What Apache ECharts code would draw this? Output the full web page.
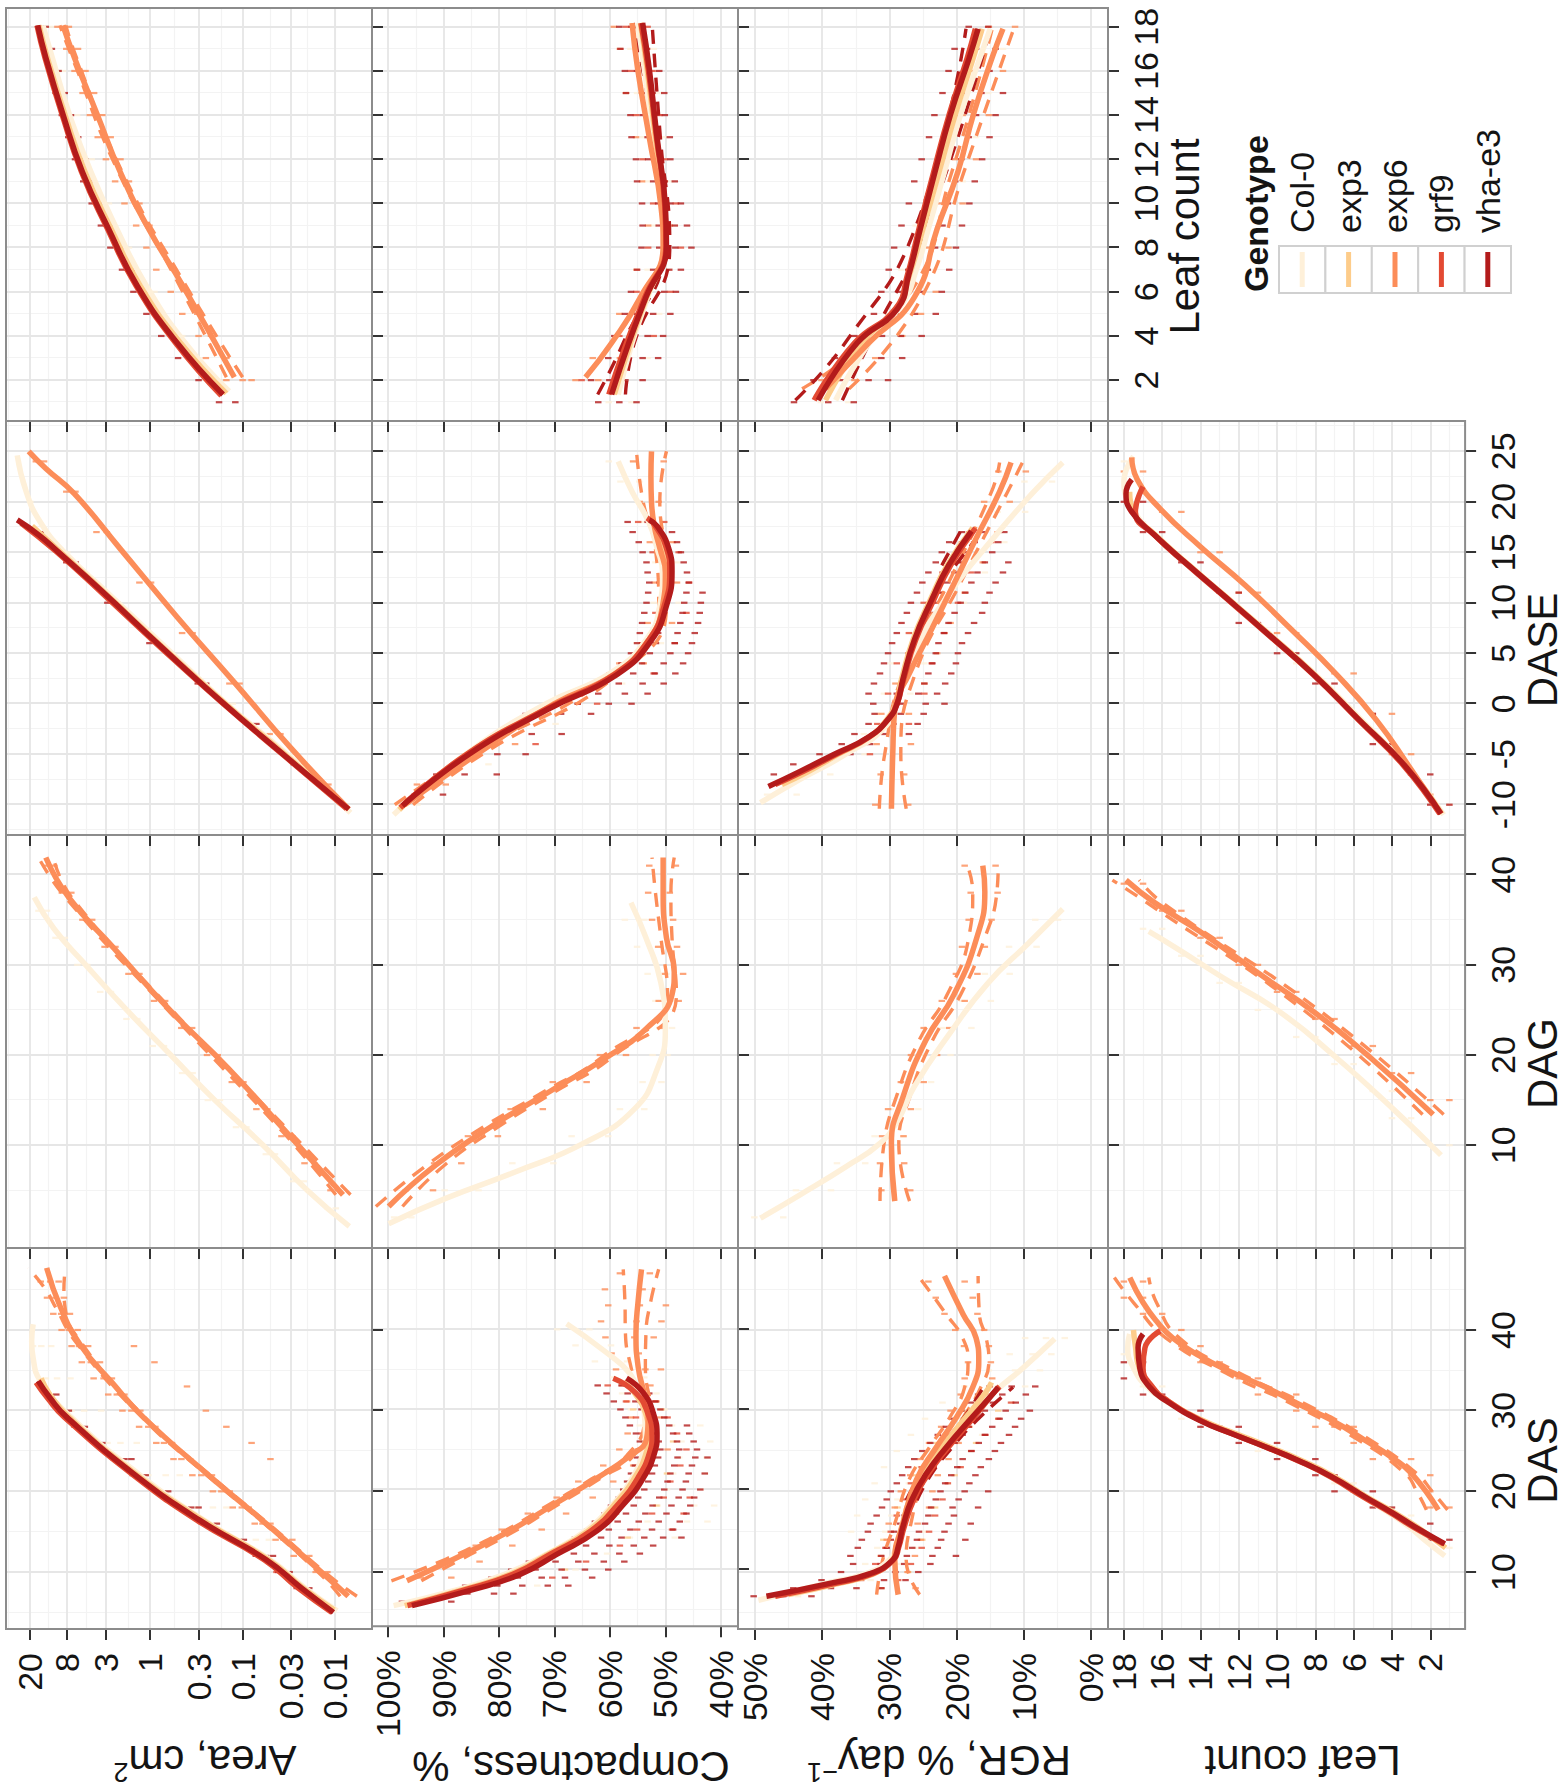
<!DOCTYPE html>
<html>
<head>
<meta charset="utf-8">
<title>Rosette growth by genotype</title>
<script src="https://cdn.jsdelivr.net/npm/echarts@6/dist/echarts.min.js"></script>
<style>
  html, body { margin: 0; padding: 0; background: #ffffff; }
  #page { position: relative; width: 1564px; height: 1792px; overflow: hidden; background: #ffffff; }
  /* the figure is laid out landscape and turned a quarter turn counter-clockwise */
  #chart { position: absolute; left: 0; top: 0; width: 1792px; height: 1564px;
           transform-origin: 0 0; transform: translateY(1792px) rotate(-90deg); }
</style>
</head>
<body>
<div id="page"><div id="chart"></div></div>
<script>
// ---------------- genotypes ----------------
const genotypes = ['Col-0', 'exp3', 'exp6', 'grf9', 'vha-e3'];
const genoColors = ['#fef0d9', '#fdcc8a', '#fc8d59', '#e34a33', '#b31b1b'];

// ---------------- axes: x variables (columns) ----------------
const xNames = ['DAS', 'DAG', 'DASE', 'Leaf count'];
const xRanges = [[2.94, 50.16], [-1.4, 44.4], [-13.0, 28.0], [0.15, 18.85]];
const xTicks = [[10, 20, 30, 40], [10, 20, 30, 40], [-10, -5, 0, 5, 10, 15, 20, 25], [2, 4, 6, 8, 10, 12, 14, 16, 18]];

// ---------------- axes: y variables (rows) ----------------
const yNames = ['Area, cm{sup|2}', 'Compactness, %', 'RGR, % day{sup|\u22121}', 'Leaf count'];
const yRanges = [[0.00398, 36.4], [36.9, 102.9], [-2.53, 52.53], [0.18, 18.83]];
const yTicks = [[0.01, 0.03, 0.1, 0.3, 1, 3, 8, 20], [40, 50, 60, 70, 80, 90, 100], [0, 10, 20, 30, 40, 50], [2, 4, 6, 8, 10, 12, 14, 16, 18]];

// ================= fitted curves [x, y] and confidence bands [x, lower, upper] =================
// DAS x Area (cm2)
const dasAreaCol0 = [[5.2,0.0095],[8,0.021],[11.5,0.05],[16.4,0.26],[22.2,1.35],[29.2,7.2],[33.7,15.5],[36.5,18.5],[38.6,19.2],[40.7,18.5]];
const dasAreaExp3 = [[5.3,0.0102],[8,0.022],[11.5,0.052],[16.4,0.27],[22.2,1.45],[29.2,7.6],[32,12.2],[34,15.2]];
const dasAreaExp6 = [[7.0,0.0072],[9.4,0.0123],[15.6,0.0506],[22.2,0.245],[29.2,1.19],[33.5,2.6],[38.2,5.75],[43,9.5],[47.7,13.2]];
const dasAreaGrf9 = [[5.0,0.0108],[8,0.025],[11.5,0.058],[16.4,0.31],[22.2,1.6],[29.2,8.5],[31.5,12.8],[33.5,17.2]];
const dasAreaVha = [[5.0,0.0104],[8,0.023],[11.5,0.055],[16.4,0.29],[22.2,1.52],[29.2,8.0],[31.5,12],[33.7,16.3]];
const dasAreaExp6Ci = [[7,0.0058,0.0088],[9.4,0.0112,0.0135],[15.6,0.048,0.053],[22.2,0.236,0.255],[29.2,1.15,1.23],[38.2,5.4,6.1],[43,8.4,10.8],[45,8.6,13.5],[47.7,8.3,21]];

// DAS x Compactness (%)
const dasCompCol0 = [[5.5,99],[7.4,88],[9.4,79],[11.9,71.5],[14.8,64.5],[18.1,59.5],[21.4,56],[24.7,54],[26.7,53.6],[29.6,53.8],[32.1,55],[34.5,56.4],[37.4,61.2],[40.7,67.8]];
const dasCompExp3 = [[5.5,97],[7.4,87],[9.4,78],[11.9,71.2],[14.8,64],[18.1,59.2],[21.4,55.6],[24.7,53.4],[26.7,53],[29.6,53.6],[32.1,55.6],[33.5,57.5]];
const dasCompExp6 = [[8.6,96.6],[11.3,88.2],[14.4,79.2],[18.1,70.2],[21.4,62.4],[24.2,56.4],[26.3,53.4],[28.8,53.1],[31.6,53.7],[35.3,54.9],[39.5,55.3],[43.6,54.9],[47.5,54.3]];
const dasCompGrf9 = [[5.5,96.5],[7.4,86.5],[9.4,77.5],[11.9,70.8],[14.8,63.5],[18.1,58.6],[21.4,55.0],[24.7,52.8],[26.7,52.4],[29.6,53.2],[32.1,55.4],[33.9,59.4]];
const dasCompVha = [[5.5,95.7],[7.4,85.2],[9.4,76.2],[11.9,69.6],[14.8,62.4],[18.1,57.6],[21.4,54.0],[24.7,51.9],[26.7,51.5],[29.6,52.2],[32.1,54.0],[33.9,57.0]];
const dasCompExp6Ci = [[8.6,94,99.4],[11.3,86.8,89.6],[14.4,78.2,80.2],[18.1,69.4,71.0],[21.4,61.7,63.1],[24.2,55.8,57.0],[28.8,52.4,53.8],[35.3,53.6,56.2],[39.5,53.5,57.2],[43.6,52.6,57.3],[47.5,51.2,57.6]];

// DAS x RGR (% per day)
const dasRgrCol0 = [[6.5,49.5],[8.6,39.5],[9.8,33.5],[11.5,30],[13.1,29],[15.6,28.2],[18.9,27],[22.2,24.8],[25.5,22],[28.8,18.6],[32.5,14.1],[35.3,10.1],[38.9,5.4]];
const dasRgrExp3 = [[7.2,45],[8.6,37.5],[9.8,32.3],[11.5,29.6],[13.1,28.8],[15.6,28.1],[18.9,27],[22.2,25],[25.5,22.2],[28.8,19],[32.1,15.8],[33.5,14.8]];
const dasRgrExp6 = [[7.2,28.7],[11.5,29.2],[16.0,28.0],[21.4,26.0],[25.5,23.0],[29.2,20.0],[32.9,17.6],[36.2,16.7],[39.0,17.1],[41.9,19.0],[46.7,21.8]];
const dasRgrGrf9 = [[7.0,47],[8.6,38],[9.8,32.5],[11.5,29.4],[13.1,28.6],[15.6,27.8],[18.9,26.4],[22.2,24.2],[25.5,21.2],[28.8,17.8],[32.1,14.6],[33,13.6]];
const dasRgrVha = [[7.0,48.3],[8.6,38.9],[9.8,32.9],[11.5,29.5],[13.1,28.7],[15.6,28.0],[18.9,26.7],[22.2,24.5],[25.5,21.5],[28.8,18.1],[32.1,14.6],[32.9,13.8]];
const dasRgrExp6Ci = [[7.2,25.5,31.9],[11.5,27.5,31.0],[16.0,26.8,29.2],[21.4,24.9,27.1],[25.5,22.0,24.0],[29.2,19.0,21.0],[32.9,16.4,18.8],[36.2,15.2,18.3],[39.0,15.6,19.1],[41.9,16.6,21.5],[46.7,16.8,25.7]];
const dasRgrVhaCi = [[18.9,25.9,27.5],[22.2,23.7,25.3],[25.5,20.6,22.4],[28.8,17.0,19.2],[32.9,11.6,16.0]];

// DAS x Leaf count
const dasLeafCol0 = [[12,1.24],[14,2.3],[15.6,3.1],[17.4,4.2],[19.3,5.5],[21.8,7.2],[23.8,8.9],[25.5,10.6],[27.1,12.3],[28.8,14.0],[31.2,15.8],[33,16.8],[35.3,17.5],[37.8,17.8],[39.5,17.7]];
const dasLeafExp3 = [[13,1.2],[15.6,2.7],[17.4,3.9],[19.3,5.3],[21.8,7.0],[23.8,8.7],[25.5,10.4],[27.1,12.1],[28.8,13.9],[31.2,15.7],[33,16.6],[35.3,17.2],[38,17.4],[40,17.5]];
const dasLeafExp6 = [[17.7,1.58],[22.2,2.97],[24.2,4.01],[26.3,5.39],[28.8,7.13],[30.8,8.86],[32.9,10.59],[34.7,12.32],[36.8,14.05],[39.0,15.44],[41.1,16.30],[43.4,17.0],[46.5,17.69]];
const dasLeafGrf9 = [[13.5,1.3],[15.6,2.9],[17.4,4.1],[19.3,5.5],[21.8,7.2],[23.8,8.9],[25.5,10.6],[27.1,12.3],[28.8,14],[31.2,15.7],[32.9,16.5],[35.3,17.0],[37.8,16.9],[39.9,16.1]];
const dasLeafVha = [[13.5,1.24],[15.6,2.80],[17.4,4.01],[19.3,5.39],[21.8,7.13],[23.8,8.86],[25.5,10.59],[27.1,12.32],[28.8,14.05],[31.2,15.78],[32.9,16.65],[35.3,17.17],[37.8,17.26],[39.5,17.0]];
const dasLeafExp6Ci = [[17.7,1.1,2.2],[20,1.9,2.7],[22.2,2.7,3.3],[26.3,5.1,5.7],[30.8,8.5,9.2],[34.7,12.0,12.7],[39,15.1,15.8],[43.4,16.3,17.5],[46.5,16.7,18.5]];

// DAG panels (Col-0 and exp6 only)
const dagAreaCol0 = [[1,0.007],[5,0.02],[10,0.06],[15,0.2],[20,0.6],[25,1.8],[30,5],[34,11],[37.5,18]];
const dagAreaExp6 = [[4.5,0.0082],[11.5,0.034],[18.5,0.142],[24.8,0.59],[31.8,2.45],[37.5,7.66],[41.9,13.5]];
const dagAreaExp6Ci = [[4.5,0.0068,0.0098],[11.5,0.031,0.037],[24.8,0.56,0.62],[37.5,7.1,8.3],[41.9,11.2,16.2]];
const dagCompCol0 = [[1.3,99.9],[4.1,89.6],[7.0,77.2],[10.2,64.8],[14.0,55.6],[18.4,51.5],[22.9,50.0],[28.0,50.8],[33.0,53.5],[36.9,56.2]];
const dagCompExp6 = [[3.2,99.9],[7.7,91.6],[12.1,81.3],[15.9,71.0],[19.7,60.7],[22.9,53.5],[26.7,48.8],[29.2,48.4],[33.0,49.8],[38.1,50.4],[41.9,50.4]];
const dagCompExp6Ci = [[3.2,97.4,102.2],[7.7,90,93.2],[12.1,80,82.6],[15.9,70,72],[19.7,59.8,61.6],[26.7,48,49.6],[33,48.8,50.8],[38.1,49,51.8],[41.9,48.4,52.4]];
const dagRgrCol0 = [[1.9,49.2],[4.5,43.3],[7.6,36.5],[10.2,31.4],[12.7,28.8],[16.5,26.3],[22.2,21.2],[28.0,15.3],[32.4,9.3],[36.2,4.2]];
const dagRgrExp6 = [[3.8,29.2],[10.2,29.7],[15.3,28.0],[21.6,24.6],[26.7,20.4],[33.0,17.0],[38.1,15.8],[41.0,16.1]];
const dagRgrExp6Ci = [[3.8,27.0,31.4],[10.2,28.6,30.8],[15.3,27.0,29.0],[21.6,23.6,25.6],[26.7,19.4,21.4],[33,15.8,18.2],[38.1,14,17.6],[41,13.8,18.4]];
const dagLeafCol0 = [[8.9,1.44],[14.0,3.93],[19.7,6.90],[24.8,9.87],[28.6,12.84],[31.8,15.22],[33.7,16.7]];
const dagLeafExp6 = [[13.4,1.85],[19.7,5.12],[24.8,8.09],[29.2,11.06],[33.7,14.03],[36.9,16.4],[39.4,17.89]];
const dagLeafExp6Ci = [[13.4,1.3,2.4],[24.8,7.7,8.5],[36.9,16.0,16.8],[39.4,17.2,18.6]];

// DASE x Area
const daseAreaCol0 = [[-10.8,0.0068],[-5,0.033],[0,0.15],[5.7,0.7],[11,2.9],[15,8.5],[18,15.5],[21,22],[24.6,27.5]];
const daseAreaExp3 = [[-10.4,0.0072],[-5.2,0.033],[0.1,0.158],[5.7,0.75],[11,3.1],[15.1,9.6],[17.6,19]];
const daseAreaExp6 = [[-10.45,0.0071],[-4.45,0.0296],[2.12,0.123],[8.57,0.51],[15.36,2.12],[20.8,6.64],[23.3,13.5],[25.0,20.7]];
const daseAreaGrf9 = [[-10.4,0.0075],[-5.2,0.035],[0.1,0.167],[5.7,0.8],[11,3.35],[15.1,10.5],[17.9,25]];
const daseAreaVha = [[-10.45,0.0071],[-5.24,0.034],[0.08,0.163],[5.74,0.78],[11.06,3.25],[15.14,10.2],[16.7,16],[18.2,27.5]];

// DASE x Compactness
const daseCompCol0 = [[-11,99],[-5,86],[0,71.5],[3,60],[6.3,53.5],[9.7,51],[13,50.5],[15.4,51.5],[18,53],[21,56],[24,58.5]];
const daseCompExp3 = [[-10.5,98],[-5,85.8],[-0.5,71.5],[2.9,59.3],[6.3,53],[9.7,50.3],[13.1,49.4],[15.4,50],[17.6,52]];
const daseCompExp6 = [[-10,97],[-5,84],[0,70],[3,59],[6.3,53],[9.7,50.5],[13,50],[15.4,51],[17.6,52],[20,52.5],[22.5,52.6],[25,52.5]];
const daseCompGrf9 = [[-10.3,97.8],[-5,85.8],[-0.5,71.4],[2.9,59.2],[6.3,53],[9.7,50.2],[13.1,49.2],[15.4,49.8],[17.6,51.8],[18.4,53.3]];
const daseCompVha = [[-10.1,97.4],[-5.0,85.4],[-0.5,71.0],[2.9,58.7],[6.3,52.5],[9.7,49.8],[13.1,48.8],[15.4,49.4],[17.6,51.5],[18.2,52.9]];
const daseCompExp6Ci = [[-10,95.5,98.8],[-5,83,85],[3,58.3,59.7],[9.7,49.8,51.2],[15.4,50.2,51.8],[20,51,54],[25,49.8,55.2]];

// DASE x RGR
const daseRgrCol0 = [[-9.8,49.2],[-7.5,43.3],[-5.0,36.5],[-2.2,30.5],[0.65,28.8],[5.2,26.3],[10.8,21.2],[16.5,14.4],[21.0,8.5],[23.9,4.2]];
const daseRgrExp3 = [[-8,46],[-6.7,42],[-5,37.6],[-3.3,33],[-1.4,30.2],[0.1,29],[2.4,28.2],[6.3,26.5],[10.3,23.9],[13.7,21.4],[17.4,17.6]];
const daseRgrExp6 = [[-10.4,29.7],[-5.0,29.5],[-0.5,29.2],[2.9,27.1],[7.4,23.7],[12.0,20.3],[16.5,17.0],[21.0,13.6],[23.9,11.9]];
const daseRgrGrf9 = [[-8,47],[-6.7,42.8],[-5,37.9],[-3.3,33],[-1.4,30],[0.1,28.8],[2.4,27.9],[6.3,26.1],[10.3,23.4],[13.7,20.9],[17.4,17.2]];
const daseRgrVha = [[-8.2,48.0],[-6.7,43.3],[-5.0,38.2],[-3.3,33.1],[-1.4,30.0],[0.1,28.8],[2.4,28.0],[6.3,26.3],[10.3,23.7],[13.7,21.2],[17.1,17.8]];
const daseRgrExp6Ci = [[-10.4,27.5,31.5],[-5,28.3,30.7],[2.9,26.2,28],[12,19.4,21.2],[21,12.4,14.8],[23.9,10.2,13.6]];
const daseRgrVhaCi = [[13.7,20.2,22.2],[17.1,16.2,19.4]];

// DASE x Leaf count
const daseLeafCol0 = [[-11,1.3],[-6.1,3.3],[-1.6,5.6],[2.9,8.0],[6.9,10.4],[10.8,12.8],[13.7,14.6],[16.7,16.4],[19.5,17.6],[22,18.0],[24.5,17.5]];
const daseLeafExp3 = [[-10.9,1.4],[-6.1,3.3],[-1.6,5.68],[2.9,8.05],[6.9,10.42],[10.8,12.8],[13.7,14.58],[16.7,16.35],[19,17.5],[21,17.7]];
const daseLeafExp6 = [[-10.9,1.44],[-6.4,3.04],[-1.6,4.82],[2.9,6.90],[7.4,9.28],[11.7,11.65],[15.6,14.03],[19.3,16.1],[22.2,17.3],[24.4,17.59]];
const daseLeafGrf9 = [[-10.9,1.5],[-6.1,3.4],[-1.6,5.75],[2.9,8.12],[6.9,10.5],[10.8,12.87],[13.7,14.65],[16.7,16.4],[19,17.4],[21.5,17.0]];
const daseLeafVha = [[-10.9,1.44],[-6.1,3.34],[-1.6,5.71],[2.9,8.09],[6.9,10.47],[10.8,12.84],[13.7,14.62],[16.7,16.4],[19.0,17.59],[20.8,17.89],[22.2,17.59]];

// Leaf count x Area
const leafAreaCol0 = [[1.5,0.14],[3.7,0.42],[6.27,1.1],[8.85,2.3],[11.44,4.4],[14.03,7.5],[16.61,11.5],[18.06,14.5]];
const leafAreaExp3 = [[1.4,0.15],[3.68,0.47],[6.27,1.28],[8.85,2.65],[11.44,5.1],[14.03,8.4],[16.61,13],[18.06,16]];
const leafAreaExp6 = [[2.13,0.123],[6.27,0.443],[8.85,1.04],[11.44,2.12],[14.03,3.75],[16.61,6.63],[18.06,8.8]];
const leafAreaGrf9 = [[1.3,0.17],[3.68,0.53],[6.27,1.42],[8.85,2.9],[11.44,5.55],[14.03,9],[16.61,13.8],[18.06,16.8]];
const leafAreaVha = [[1.35,0.163],[3.68,0.51],[6.27,1.38],[8.85,2.82],[11.44,5.43],[14.03,8.8],[16.61,13.5],[18.06,16.5]];
const leafAreaExp6Ci = [[2.13,0.1,0.15],[6.27,0.41,0.48],[11.44,2.02,2.22],[16.61,6.3,7],[18.06,8.2,9.5]];

// Leaf count x Compactness
const leafCompCol0 = [[1.35,58.5],[3.68,56],[5.75,53.2],[8.08,50.3],[9.89,50.6],[12.99,52.2],[16.1,53.8],[18.17,55]];
const leafCompExp3 = [[1.35,59.2],[3.68,56.3],[5.75,53.4],[8.08,50],[9.89,50.3],[12.99,51.8],[16.1,53.3],[18.17,54.5]];
const leafCompExp6 = [[2.13,64.4],[3.68,59.7],[5.75,54.5],[8.08,50.4],[9.89,50.8],[12.99,52.9],[16.1,55.0],[18.17,56.0]];
const leafCompGrf9 = [[1.35,60.2],[3.68,57],[5.75,53.7],[8.08,49.9],[9.89,50.1],[12.99,51.6],[16.1,53.1],[18.17,54.4]];
const leafCompVha = [[1.35,59.7],[3.68,56.6],[5.75,53.5],[8.08,49.8],[9.89,50.0],[12.99,51.5],[16.1,52.9],[18.17,54.1]];
const leafCompVhaCi = [[1.35,57.2,62.2],[3.68,55.6,57.6],[8.08,49.2,50.4],[12.99,50.9,52.1],[18.17,52.4,55.8]];

// Leaf count x RGR
const leafRgrCol0 = [[1.09,38],[3.68,33],[5.5,28],[7,26],[8.85,24.2],[11.44,21.8],[14.03,19.4],[16.61,16.5],[17.91,15]];
const leafRgrExp3 = [[1.09,39.5],[3.68,34.2],[5.23,29],[6.78,27],[8.85,25],[11.44,22.6],[14.03,20.2],[16.61,17.5],[17.91,16.2]];
const leafRgrExp6 = [[1.61,39.5],[3.68,33.1],[5.75,26.3],[8.85,22.9],[11.44,19.8],[14.03,17.5],[16.61,14.7],[17.91,13.1]];
const leafRgrGrf9 = [[1.09,41.2],[3.68,35.2],[5.23,29.1],[6.78,27.3],[8.85,25.6],[11.44,23.4],[14.03,21.1],[16.61,18.4],[17.91,17.2]];
const leafRgrVha = [[1.09,40.6],[3.68,34.8],[5.23,28.8],[6.78,27.1],[8.85,25.4],[11.44,23.2],[14.03,20.9],[16.61,18.1],[17.91,16.8]];
const leafRgrVhaCi = [[1.09,37,44],[3.68,33,36.6],[8.85,24.6,26.2],[17.91,15,18.6]];
const leafRgrExp6Ci = [[1.61,36,43],[5.75,25.2,27.4],[11.44,18.9,20.7],[17.91,11.5,14.7]];

// ================= individual plant measurements: [x, genotype index, y values...] =================
const dasAreaPts = [
  [8,4,0.026,0.019],[10,4,0.041,0.031],[12,4,0.072,0.056,0.047],[14,4,0.128,0.097],[16,4,0.25,0.19],[18,4,0.44,0.36,0.3],[20,4,0.82,0.64],[22,4,1.42,1.12],[24,4,2.5,1.9,1.6],[26,4,4.1,3.3],[28,4,6.3,5.1],[30,4,9.2,7.6],[32,4,12.6,10.4],
  [10,3,0.043],[16,3,0.27],[22,3,1.55],[28,3,6.6],[32,3,13.4],
  [14,0,0.11,0.072,0.052],[18,0,0.31,0.21,0.15],[22,0,1.05,0.68,0.48],[26,0,2.9,2.1,1.4],[30,0,7.1,5.2,3.4],[34,0,13.5,10.2,7.3],[38,0,18.6,15.1,11.8],
  [10,2,0.0145,0.0162,0.0121],[12,2,0.0225,0.028,0.019],[14,2,0.036,0.044,0.029],[16,2,0.061,0.074,0.05],[18,2,0.102,0.128,0.086],[20,2,0.17,0.21,0.138],[22,2,0.28,0.35,0.215],[24,2,0.46,0.56,0.37,0.05],[26,2,0.71,0.86,0.58,0.08],[28,2,1.05,1.32,0.88,0.15],[30,2,1.6,2.0,1.28,0.25],[32,2,2.3,2.85,1.9],[33,2,0.4],[34,2,3.2,4.1,2.6],[36,2,4.4,5.5,3.5,0.9],[38,2,5.9,7.1,4.7,1.5],[40,2,7.6,9.1,6.1],[42,2,9.2,11.2,7.4],[44,2,10.6,13.1,8.6],[46,2,12.1,15.3,9.8]
];
const dasCompPts = [
  [6,4,97.5,93.1,88.6],[7,4,90.2,85.7,80.9,77.4],[8,4,86.1,80.3,75.8,71.2,67.5],[9,4,81.4,76.6,72.3,68.1,63.2],[10,4,77.8,73.4,68.7,64.5,60.3],[11,4,74.6,69.8,65.7,61.1,57.4],[12,4,71.2,66.5,62.8,58.3,54.6],[13,4,68.5,64.3,60.1,55.7,52.2],[14,4,66.3,61.6,57.9,53.8,50.4,47.1],[15,4,64.1,60.2,56.3,52.4,48.6],[16,4,62.7,58.6,54.8,51.2,47.4],[17,4,61.0,57.1,53.6,49.8,46.2],[18,4,59.8,55.7,52.3,48.9,45.5],[19,4,58.4,54.9,51.1,47.6,44.8],[20,4,57.6,53.8,50.2,46.9,43.7],[21,4,56.9,53.1,49.6,46.3],[22,4,56.2,52.4,49.1,45.8,42.9],[23,4,55.5,51.9,48.4,45.2],[24,4,55.1,51.3,47.8,44.6,42.4],[25,4,54.8,50.9,47.5,44.3],[26,4,54.6,51.2,47.9,44.9],[27,4,55.3,51.8,48.6,45.7],[28,4,56.4,52.7,49.3,46.1],[29,4,57.2,53.6,50.2],[30,4,58.1,54.3,50.9],[31,4,59.3,55.4,51.8],[32,4,60.6,56.8,52.9],[33,4,62.2,57.9],
  [9,3,79.2,70.4],[11,3,72.1,64.3],[13,3,66.8,58.2],[15,3,62.3,55.1,48.8],[17,3,58.9,52.4,46.7],[19,3,56.8,50.3,45.6],[21,3,55.2,49.1],[23,3,53.7,47.3],[25,3,53.1,46.2],[27,3,54.2,47.9],[29,3,55.3,49.6],[31,3,57.1,51.8],[33,3,60.4],
  [8,0,82.3,73.1],[10,0,75.4,66.2],[12,0,69.8,60.5],[14,0,65.2,56.4,48.3],[16,0,61.7,53.2,46.1,42.4],[18,0,59.1,51.4,44.8,41.2],[20,0,56.9,49.7,43.6],[22,0,55.3,48.6,42.8],[24,0,54.2,47.5,42.6],[26,0,53.8,47.1,41.9],[28,0,54.6,48.8,43.7],[30,0,56.2,50.1],[32,0,57.8,51.6],[34,0,59.4,53.8],[36,0,62.7,56.9],[38,0,66.2,59.8],[40,0,69.5,63.7],
  [9,2,94.1,88.6],[11,2,89.7,83.5],[13,2,84.2,77.6],[15,2,79.5,72.3],[17,2,74.8,67.9],[19,2,69.6,63.1],[21,2,65.7,59.4],[23,2,61.2,55.8],[25,2,58.3,53.1,49.6],[27,2,56.8,51.7],[29,2,56.2,50.9],[31,2,56.9,51.6],[33,2,57.8,52.7],[35,2,58.9,53.6,50.8],[37,2,59.7,54.8],[39,2,60.8,55.6,52.1],[41,2,61.6,55.2,50.7],[43,2,60.3,54.6,49.9],[45,2,60.9,54.1],[47,2,58.2,52.8],
  [10,1,76.3,68.1],[14,1,64.2,56.8],[18,1,58.3,51.6],[22,1,55.1,49.7],[26,1,53.9,48.6],[30,1,55.8,50.7]
];
const dasRgrPts = [
  [7,4,50.2,45.8,41.6],[8,4,44.3,38.7,34.9,31.2],[9,4,40.1,35.4,30.8,27.6],[10,4,37.2,32.6,29.1,25.7],[11,4,35.4,31.3,27.8,23.9],[12,4,35.8,31.2,27.4,23.6,20.1],[13,4,34.7,30.4,26.6,22.8],[14,4,34.1,29.8,25.9,22.3,18.7],[15,4,33.2,29.3,25.6,21.8],[16,4,32.8,28.4,24.7,21.2,17.9],[17,4,31.9,27.8,24.2,20.4],[18,4,31.1,27.3,23.8,20.6,16.8],[19,4,30.4,26.6,23.1,19.7],[20,4,29.8,25.9,22.4,18.8,15.3],[21,4,28.9,25.2,21.7,18.1],[22,4,28.1,24.3,20.8,17.2],[23,4,27.2,23.4,19.9,16.4],[24,4,26.3,22.5,19.1,15.2],[25,4,25.1,21.4,17.8,14.3],[26,4,23.9,20.3,16.7,13.4],[27,4,22.8,19.1,15.8,12.2],[28,4,21.6,18.2,14.7,11.3],[29,4,20.7,17.1,13.6,10.4],[30,4,19.3,15.8,12.7,9.1],[31,4,17.9,14.6,11.2],[32,4,16.8,13.2,9.7],[33,4,15.1,11.8,8.3],
  [9,3,34.2,28.7],[11,3,32.1,26.8],[13,3,30.6,25.2],[15,3,29.8,24.1],[17,3,28.9,23.2],[19,3,27.7,22.1],[21,3,26.8,21.3],[23,3,25.2,19.4],[25,3,23.1,17.8],[27,3,21.2,15.7],[29,3,18.9,13.8],[31,3,16.8,11.9],
  [7,0,47.8,43.6],[9,0,37.9,32.8],[11,0,33.6,28.7],[13,0,31.8,26.2],[15,0,35.7,30.6,24.8],[17,0,34.8,29.7,23.9],[19,0,33.6,28.8,22.8],[21,0,32.2,27.1,21.3],[23,0,30.8,25.7,19.6],[25,0,28.9,23.8,17.9],[27,0,26.8,21.7,16.2],[29,0,24.7,19.6,13.8],[31,0,22.1,17.2,11.7],[33,0,18.8,14.1,9.8],[35,0,15.2,11.3,7.6],[37,0,12.1,8.7,5.9],[39,0,9.8,6.7,3.9],
  [8,2,31.2,26.1],[10,2,32.4,27.3],[12,2,31.3,26.2],[14,2,30.4,25.3],[16,2,30.1,25.8],[18,2,29.2,24.1],[20,2,28.3,23.6],[22,2,26.9,22.8],[24,2,25.4,21.2],[26,2,24.1,19.7],[28,2,22.3,18.1],[30,2,20.9,16.8],[32,2,19.4,15.6],[34,2,18.8,14.7],[36,2,18.3,14.9],[38,2,18.9,15.2],[40,2,20.2,15.9],[42,2,21.8,16.9],[44,2,23.1,17.6],[46,2,24.2,18.8],
  [10,1,33.1,27.2],[14,1,30.9,25.1],[18,1,28.8,23.2],[22,1,26.2,20.3],[26,1,22.9,17.1],[30,1,19.2,13.8]
];
const dasLeafPts = [
  [14,4,1,2],[16,4,3,2],[18,4,4,5],[20,4,6,5,7],[22,4,7,8],[24,4,9,8,10],[26,4,11,10,12],[28,4,13,14,12],[30,4,15,14],[32,4,16,17],[34,4,17,18],[36,4,17,18],
  [18,2,1,2],[20,2,2],[22,2,3,2],[24,2,4,3,5],[26,2,5,6],[28,2,7,6,8],[30,2,8,9],[32,2,10,9,11],[34,2,12,11],[36,2,13,14],[38,2,15,14],[40,2,16,15],[42,2,17,16],[44,2,17,18],[46,2,18,17],
  [13,0,1],[17,0,3,4],[21,0,6,7],[25,0,10,11],[29,0,14,15],[33,0,16,17],[37,0,18,17]
];
const dagAreaPts = [
  [5,2,0.0093,0.0112],[8,2,0.0168,0.0214],[11,2,0.029,0.038],[14,2,0.054,0.071],[17,2,0.098,0.131],[20,2,0.186,0.243],[23,2,0.352,0.461],[26,2,0.69,0.91],[29,2,1.31,1.72],[32,2,2.38,3.12],[35,2,4.25,5.42],[38,2,7.15,9.05],[41,2,10.9,13.6],
  [3,0,0.0098,0.0121],[6,0,0.0218,0.0283],[9,0,0.0447,0.0561],[12,0,0.091,0.118],[15,0,0.176,0.238],[18,0,0.348,0.452],[21,0,0.71,0.94],[24,0,1.38,1.81],[27,0,2.66,3.48],[30,0,4.8,6.15],[33,0,8.4,10.6],[36,0,13.1,16.2]
];
const dagCompPts = [
  [5,2,96.8,91.9],[8,2,91.7,86.8],[11,2,85.6,80.2],[14,2,77.9,72.1],[17,2,70.3,64.2],[20,2,61.8,57.1],[23,2,55.2,50.9],[26,2,51.2,47.6],[29,2,50.1,46.8],[32,2,51.3,47.9],[35,2,52.4,48.6],[38,2,53.1,49.2],[41,2,52.9,48.1],
  [2,0,98.9,95.8],[5,0,89.8,83.7],[8,0,77.6,70.2],[11,0,66.9,60.3],[14,0,58.2,53.8],[17,0,54.1,50.7],[20,0,52.3,49.6],[23,0,51.1,48.8],[26,0,51.8,48.9],[29,0,53.2,49.8],[32,0,55.1,51.2],[35,0,57.3,53.8]
];
const dagRgrPts = [
  [2,0,50.1,45.8],[5,0,43.9,38.7],[8,0,37.8,33.6],[11,0,32.2,27.9],[14,0,29.8,25.7],[17,0,27.9,23.8],[20,0,25.2,20.9],[23,0,22.1,17.8],[26,0,19.2,14.9],[29,0,15.8,12.1],[32,0,12.2,8.1],[35,0,8.3,4.9],
  [5,2,31.2,26.9],[8,2,31.4,27.8],[11,2,31.1,27.9],[14,2,30.2,26.8],[17,2,28.3,24.9],[20,2,26.8,22.9],[23,2,24.9,21.1],[26,2,22.2,18.8],[29,2,20.1,16.9],[32,2,19.2,15.8],[35,2,18.2,14.8],[38,2,17.9,13.9],[41,2,18.8,14.2]
];
const dagLeafPts = [
  [15,2,2,1],[18,2,3,4],[21,2,6,5],[24,2,8,7],[27,2,10,9],[30,2,12,11],[33,2,14,13],[36,2,16,15],[39,2,18,17],
  [10,0,1,2],[13,0,3,4],[16,0,5,4],[19,0,7,6],[22,0,8,9],[25,0,10,11],[28,0,13,12],[31,0,15,14],[34,0,17,16]
];
const daseAreaPts = [
  [-10,4,0.0082],[-6,4,0.0221,0.0279],[-2,4,0.071,0.089],[2,4,0.248,0.306],[6,4,0.79,1.02],[10,4,2.28,2.91],[14,4,6.4,8.1],[17,4,14.8,18.2],
  [-8,2,0.0118,0.0142],[-3,2,0.039,0.051],[2,2,0.108,0.139],[7,2,0.348,0.452],[12,2,0.98,1.31],[17,2,2.95,3.82],[21,2,6.45,8.1],[24,2,14.1,17.3],
  [-10,0,0.0088],[-5,0,0.0305],[0,0,0.128],[5,0,0.61],[10,0,2.42],[15,0,7.9],[20,0,19.8]
];
const daseCompPts = [
  [-9,4,95.2,90.1],[-7,4,91.3,86.2,80.4],[-5,4,86.1,80.3,75.2],[-3,4,80.4,74.1,68.7],[-1,4,75.2,68.8,63.4],[0,4,71.3,65.8,60.2,56.1],[1,4,67.4,62.1,57.3,53.2],[2,4,63.2,58.4,54.1,50.3],[3,4,60.1,55.8,51.9,48.2],[4,4,57.9,54.2,50.3,46.8],[5,4,56.2,52.8,49.1,45.9],[6,4,55.1,51.7,48.3,45.2],[7,4,54.6,51.3,47.8,44.7],[8,4,54.2,50.8,47.3,44.1],[9,4,53.8,50.2,46.9,43.8],[10,4,53.4,49.9,46.6,43.6],[11,4,53.1,49.7,46.2,43.3],[12,4,52.9,49.4,45.8],[13,4,53.2,49.6,46.1],[14,4,53.4,50.1,46.7],[15,4,54.1,50.6,47.2],[16,4,54.8,51.2,47.9],[17,4,55.9,52.1,48.8],[18,4,56.8,53.2],
  [-4,3,81.2,73.4],[0,3,70.1,62.3],[3,3,59.4,52.1],[6,3,54.2,48.3],[9,3,51.8,46.2],[12,3,51.1,45.7],[15,3,52.3,47.6],[18,3,54.9,50.2],
  [-8,2,94.8,89.6],[-4,2,82.9,77.1],[0,2,71.2,65.8],[4,2,58.3,53.9],[8,2,53.2,48.8],[12,2,51.9,47.9],[16,2,52.8,48.7],[20,2,54.6,51.2],[24,2,55.8,50.3],
  [-10,0,98.1,94.7],[-6,0,88.2,81.9],[-2,0,76.1,69.8],[2,0,63.4,57.8],[6,0,55.2,50.8],[10,0,52.1,47.6],[14,0,51.8,47.9],[18,0,54.3,50.6],[22,0,58.1,54.7],[24,0,60.2,55.9]
];
const daseRgrPts = [
  [-7,4,47.2,42.1],[-6,4,44.3,39.2],[-5,4,40.4,35.8],[-4,4,37.1,32.9],[-3,4,35.2,30.8,27.1],[-2,4,33.1,29.4,25.8],[-1,4,32.2,28.3,24.9],[0,4,32.4,28.1,24.6,21.8],[1,4,33.1,28.9,25.7,22.9],[2,4,32.3,28.2,24.8,21.7],[3,4,31.4,27.6,24.2,20.8],[4,4,30.8,27.1,23.6,20.1],[5,4,30.2,26.7,23.1,19.8],[6,4,29.6,26.1,22.7,19.2],[7,4,28.9,25.3,21.9,18.3],[8,4,28.2,24.8,21.2,17.4],[9,4,27.4,23.9,20.3,16.2],[10,4,26.8,23.2,19.4,15.8],[11,4,25.9,22.3,18.7,15.1],[12,4,25.1,21.4,17.8,14.2],[13,4,24.2,20.3,16.9,13.1],[14,4,23.1,19.2,15.8,12.3],[15,4,22.2,18.4,14.7],[16,4,21.1,17.3,13.8],[17,4,19.2,15.8,12.9],
  [-5,3,38.2,32.9],[-2,3,31.8,27.1],[1,3,30.2,24.8],[4,3,28.9,23.7],[7,3,27.1,21.8],[10,3,24.9,19.8],[13,3,22.1,17.9],[16,3,19.2,14.8],
  [-10,2,32.1,27.2],[-7,2,31.3,27.8],[-4,2,31.9,26.8],[-1,2,31.2,27.1],[2,2,29.1,24.8],[5,2,27.2,22.9],[8,2,24.8,20.9],[11,2,22.3,18.8],[14,2,19.8,16.1],[17,2,18.1,13.9],[20,2,15.9,12.1],[23,2,13.8,9.7],
  [-9,0,48.2,43.8],[-7,0,43.9,38.8],[-5,0,38.1,33.7],[-3,0,33.8,29.7],[-1,0,31.9,27.8],[1,0,30.8,26.9],[4,0,29.7,24.8],[7,0,26.9,21.8],[10,0,23.8,18.9],[13,0,20.9,15.8],[16,0,17.8,12.9],[19,0,13.9,9.8],[22,0,9.9,5.8]
];
const daseLeafPts = [
  [-10,4,1,2],[-7,4,3,2],[-4,4,4,5],[-1,4,6,5],[2,4,8,7],[5,4,9,10],[8,4,11,12],[11,4,13,12],[14,4,15,14],[17,4,16,17],[20,4,18,17],
  [-9,2,2],[-5,2,3,4],[-1,2,5,4],[3,2,7,6],[7,2,9,10],[11,2,11,12],[15,2,14,13],[19,2,16,15],[23,2,17,18],
  [-10,0,1],[-3,0,5],[4,0,9],[11,0,13],[18,0,17],[24,0,18]
];
const leafAreaPts = [
  [2,2,0.15,0.1,0.08],[3,2,0.25,0.15],[4,2,0.3,0.22],[5,2,0.45,0.31],[6,2,0.6,0.4],[7,2,0.86,0.55],[8,2,1.1,0.76],[9,2,1.42,1.02],[10,2,1.9,1.31],[11,2,2.4,1.7],[12,2,3.02,2.1],[13,2,3.7,2.68],[14,2,4.5,3.3],[15,2,5.4,4.05],[16,2,6.6,5.02],[17,2,8.1,6.05],[18,2,10.1,7.6],
  [1,4,0.12,0.18],[2,4,0.3,0.22],[3,4,0.5,0.35],[4,4,0.76,0.55],[5,4,1.1,0.81],[6,4,1.52,1.12],[7,4,2.02,1.51],[8,4,2.7,2.02],[9,4,3.42,2.61],[10,4,4.3,3.32],[11,4,5.31,4.12],[12,4,6.52,5.04],[13,4,7.72,6.02],[14,4,9.05,7.21],[15,4,10.6,8.42],[16,4,12.1,9.82],[17,4,14.2,11.6],[18,4,16.1,13.5],
  [2,0,0.2,0.25],[4,0,0.55,0.45],[6,0,1.2,0.9],[8,0,2.2,1.7],[10,0,3.6,2.8],[12,0,5.5,4.3],[14,0,8.1,6.2],[16,0,11.2,8.8],[18,0,14.6,12.1]
];
const leafCompPts = [
  [1,4,62.1,58.3,55.2],[2,4,63.4,60.1,57.2,54.1],[3,4,60.3,57.2,54.1,51.3],[4,4,59.2,56.1,53.2,50.4],[5,4,57.3,55.1,52.2,49.1],[6,4,56.2,53.3,50.2,48.1],[7,4,55.1,52.2,49.3,47.2],[8,4,54.3,51.1,48.2,45.3],[9,4,54.1,51.2,48.3,46.1],[10,4,54.2,51.3,49.1,47.2],[11,4,55.1,52.2,50.1,48.3],[12,4,55.3,53.1,51.2,49.1],[13,4,56.1,53.2,51.3,49.2],[14,4,56.3,54.1,52.2,50.1],[15,4,57.1,54.2,52.3,50.2],[16,4,57.3,55.1,53.2,51.1],[17,4,58.1,55.2,53.3],[18,4,58.3,56.1,54.2],
  [2,3,65.1,59.2],[4,3,58.3,52.1],[6,3,55.2,49.1],[8,3,53.1,47.2],[10,3,52.2,48.1],[12,3,54.1,50.2],[14,3,55.3,51.1],[16,3,56.2,52.3],[18,3,57.1,53.2],
  [2,2,66.2,62.1],[3,2,63.1,58.2],[5,2,58.3,54.1],[7,2,55.2,51.3],[9,2,53.1,49.2],[11,2,54.2,50.1],[13,2,55.3,51.2],[15,2,57.1,53.3],[17,2,58.2,54.1],[18,2,59.3,55.2],
  [1,0,60.2,56.1],[3,0,58.1,53.2],[5,0,55.3,51.1],[7,0,53.2,49.3],[9,0,52.1,48.2],[11,0,53.3,49.1],[13,0,54.2,50.3],[15,0,55.1,51.2],[17,0,56.3,52.1]
];
const leafRgrPts = [
  [1,4,44.2,39.1,35.3],[2,4,41.3,37.2,33.1,30.2],[3,4,38.1,34.3,31.2,28.1],[4,4,35.2,31.1,28.3,25.2],[5,4,32.3,29.1,26.2,23.1],[6,4,31.2,28.3,25.1,22.2],[7,4,30.1,27.2,24.3,21.1],[8,4,29.3,26.1,23.2,20.1],[9,4,28.2,25.3,22.1,19.2],[10,4,27.1,24.2,21.3,18.1],[11,4,26.3,23.1,20.2,17.3],[12,4,25.2,22.1,19.3,16.2],[13,4,24.1,21.3,18.2,15.1],[14,4,23.3,20.2,17.1,14.2],[15,4,22.1,19.2,16.3,13.1],[16,4,21.2,18.3,15.1],[17,4,20.3,17.1,14.2],[18,4,18.2,15.3],
  [2,2,40.1,35.2],[3,2,36.3,32.1],[4,2,32.2,28.1],[5,2,29.1,25.3],[6,2,27.2,23.1],[8,2,24.1,21.2],[10,2,22.3,19.1],[12,2,20.2,17.1],[14,2,19.1,15.2],[16,2,17.3,13.1],[18,2,15.2,11.3],
  [1,0,40.2,36.1],[3,0,35.1,31.2],[5,0,30.3,26.1],[7,0,28.2,24.1],[9,0,26.1,22.3],[11,0,23.2,19.1],[13,0,21.3,17.2],[15,0,19.1,15.3],[17,0,17.2,13.1]
];

// ---------------- panel table: [column, row, curves by genotype, bands [genotype, data], points] ----------------
const panelTable = [
  [0, 0, [dasAreaCol0, dasAreaExp3, dasAreaExp6, dasAreaGrf9, dasAreaVha], [[2, dasAreaExp6Ci]], dasAreaPts],
  [0, 1, [dasCompCol0, dasCompExp3, dasCompExp6, dasCompGrf9, dasCompVha], [[2, dasCompExp6Ci]], dasCompPts],
  [0, 2, [dasRgrCol0, dasRgrExp3, dasRgrExp6, dasRgrGrf9, dasRgrVha], [[2, dasRgrExp6Ci], [4, dasRgrVhaCi]], dasRgrPts],
  [0, 3, [dasLeafCol0, dasLeafExp3, dasLeafExp6, dasLeafGrf9, dasLeafVha], [[2, dasLeafExp6Ci]], dasLeafPts],
  [1, 0, [dagAreaCol0, null, dagAreaExp6, null, null], [[2, dagAreaExp6Ci]], dagAreaPts],
  [1, 1, [dagCompCol0, null, dagCompExp6, null, null], [[2, dagCompExp6Ci]], dagCompPts],
  [1, 2, [dagRgrCol0, null, dagRgrExp6, null, null], [[2, dagRgrExp6Ci]], dagRgrPts],
  [1, 3, [dagLeafCol0, null, dagLeafExp6, null, null], [[2, dagLeafExp6Ci]], dagLeafPts],
  [2, 0, [daseAreaCol0, daseAreaExp3, daseAreaExp6, daseAreaGrf9, daseAreaVha], [], daseAreaPts],
  [2, 1, [daseCompCol0, daseCompExp3, daseCompExp6, daseCompGrf9, daseCompVha], [[2, daseCompExp6Ci]], daseCompPts],
  [2, 2, [daseRgrCol0, daseRgrExp3, daseRgrExp6, daseRgrGrf9, daseRgrVha], [[2, daseRgrExp6Ci], [4, daseRgrVhaCi]], daseRgrPts],
  [2, 3, [daseLeafCol0, daseLeafExp3, daseLeafExp6, daseLeafGrf9, daseLeafVha], [], daseLeafPts],
  [3, 0, [leafAreaCol0, leafAreaExp3, leafAreaExp6, leafAreaGrf9, leafAreaVha], [[2, leafAreaExp6Ci]], leafAreaPts],
  [3, 1, [leafCompCol0, leafCompExp3, leafCompExp6, leafCompGrf9, leafCompVha], [[4, leafCompVhaCi]], leafCompPts],
  [3, 2, [leafRgrCol0, leafRgrExp3, leafRgrExp6, leafRgrGrf9, leafRgrVha], [[2, leafRgrExp6Ci], [4, leafRgrVhaCi]], leafRgrPts]
];

// ================= layout & style =================
const FONT = '"Liberation Sans", Arial, Helvetica, sans-serif';
const TEXT = '#141414';
const TICK = '#333333';
const colEdges = [163, 544, 957, 1371, 1784];
const rowEdges = [6, 372, 738, 1108, 1467];

function fmtY(r) {
  if (r === 0) return v => String(+Number(v).toPrecision(2));
  if (r === 1 || r === 2) return v => Math.round(v) + '%';
  return v => String(Math.round(v));
}

// major lines at the ticks, minor lines half-way between them (log-midpoints on the area scale)
function gridValues(ticks, range, isLog) {
  const f = isLog ? Math.log10 : (v => v);
  const inv = isLog ? (v => Math.pow(10, v)) : (v => v);
  const t = ticks.map(f);
  const step = t[1] - t[0];
  const ext = [t[0] - step].concat(t, [t[t.length - 1] + step]);
  const lo = f(range[0]), hi = f(range[1]);
  const minor = [];
  for (let k = 0; k < ext.length - 1; k++) {
    const m = (ext[k] + ext[k + 1]) / 2;
    if (m > lo && m < hi) minor.push(inv(m));
  }
  return { major: ticks.slice(), minor };
}

function splitPoints(rows, g) {
  const out = [];
  rows.forEach(row => {
    if (row[1] !== g) return;
    for (let k = 2; k < row.length; k++) out.push([row[0], row[k]]);
  });
  return out;
}

const grids = [], xAxes = [], yAxes = [];
const pointSeries = [], bandSeries = [], lineSeries = [], gridSeries = [];

panelTable.forEach((p, gi) => {
  const [c, r, curves, bands, pts] = p;
  grids.push({
    left: colEdges[c], top: rowEdges[r],
    width: colEdges[c + 1] - colEdges[c], height: rowEdges[r + 1] - rowEdges[r],
    show: true, borderColor: '#8c8c8c', borderWidth: 2, backgroundColor: 'transparent', z: 1
  });
  const showX = (c < 3 && r === 3) || (c === 3 && r === 2);
  const showY = c === 0;
  xAxes.push({
    gridIndex: gi, type: 'value', min: xRanges[c][0], max: xRanges[c][1], position: 'bottom',
    axisLine: { show: false, onZero: false },
    axisTick: { show: true, length: 11, customValues: xTicks[c], lineStyle: { color: TICK, width: 2 } },
    axisLabel: { show: showX, customValues: xTicks[c], margin: 21, fontSize: 34, fontFamily: FONT, color: TEXT },
    splitLine: { show: false },
    name: showX ? xNames[c] : '', nameLocation: 'middle', nameGap: 52,
    nameTextStyle: { fontSize: 42, fontFamily: FONT, color: TEXT, padding: [0, 44, 0, 0] }
  });
  yAxes.push({
    gridIndex: gi, type: r === 0 ? 'log' : 'value', logBase: 10,
    min: yRanges[r][0], max: yRanges[r][1], position: 'left',
    axisLine: { show: false, onZero: false },
    axisTick: { show: true, length: 11, customValues: yTicks[r], lineStyle: { color: TICK, width: 2 } },
    axisLabel: { show: showY, customValues: yTicks[r], margin: 24, fontSize: 34, fontFamily: FONT, color: TEXT, formatter: fmtY(r) },
    splitLine: { show: false },
    name: showY ? yNames[r] : '', nameLocation: 'middle', nameRotate: 90, nameGap: 106,
    nameTextStyle: {
      fontSize: 42, fontFamily: FONT, color: TEXT, lineHeight: 50, padding: [0, 32, 0, 0],
      rich: { sup: { fontSize: 27, fontFamily: FONT, color: TEXT, verticalAlign: 'top', lineHeight: 27 } }
    }
  });

  // panel grid lines
  const gx = gridValues(xTicks[c], xRanges[c], false);
  const gy = gridValues(yTicks[r], yRanges[r], r === 0);
  const minorStyle = { type: 'solid', color: '#f3f3f3', width: 1.2 };
  const majorStyle = { type: 'solid', color: '#e6e6e6', width: 1.8 };
  const ml = [];
  gx.minor.forEach(v => ml.push({ xAxis: v, lineStyle: minorStyle }));
  gy.minor.forEach(v => ml.push({ yAxis: v, lineStyle: minorStyle }));
  gx.major.forEach(v => ml.push({ xAxis: v, lineStyle: majorStyle }));
  gy.major.forEach(v => ml.push({ yAxis: v, lineStyle: majorStyle }));
  gridSeries.push({
    type: 'line', xAxisIndex: gi, yAxisIndex: gi, data: [], silent: true, z: 0,
    markLine: { silent: true, z: 0, symbol: ['none', 'none'], label: { show: false }, emphasis: { disabled: true }, animation: false, data: ml }
  });

  // plant measurements
  genotypes.forEach((name, g) => {
    const d = splitPoints(pts, g);
    if (!d.length) return;
    pointSeries.push({
      name, type: 'scatter', xAxisIndex: gi, yAxisIndex: gi, data: d,
      symbol: 'rect', symbolSize: [2.2, 6.5], silent: true, z: 2,
      itemStyle: { color: genoColors[g], opacity: 0.8 }
    });
  });

  // confidence bands, dashed
  bands.forEach(([g, b]) => {
    [1, 2].forEach(k => {
      bandSeries.push({
        name: genotypes[g], type: 'line', xAxisIndex: gi, yAxisIndex: gi,
        data: b.map(v => [v[0], v[k]]), smooth: 0.5, showSymbol: false, silent: true, z: 3,
        lineStyle: { color: genoColors[g], width: 3.4, type: [14, 10] }
      });
    });
  });

  // fitted curves
  curves.forEach((cv, g) => {
    if (!cv) return;
    lineSeries.push({
      name: genotypes[g], type: 'line', xAxisIndex: gi, yAxisIndex: gi, data: cv,
      smooth: 0.5, showSymbol: false, silent: true, z: 4,
      lineStyle: { color: genoColors[g], width: 5.5 }
    });
  });
});

// ---------------- legend (drawn in the empty bottom-right cell) ----------------
const legendEls = [{
  type: 'text', x: 1500, y: 1256, silent: true,
  style: { text: 'Genotype', font: 'bold 34px ' + FONT, fill: TEXT, textAlign: 'left', align: 'left', textVerticalAlign: 'middle', verticalAlign: 'middle' }
}];
const keyTop = 1279, keySize = 46.4;
genotypes.forEach((name, g) => {
  const y0 = keyTop + g * keySize;
  const yc = y0 + keySize / 2;
  legendEls.push({ type: 'rect', silent: true, shape: { x: 1499, y: y0, width: 47, height: keySize }, style: { fill: '#ffffff', stroke: '#d0d0d0', lineWidth: 2 } });
  legendEls.push({ type: 'line', silent: true, shape: { x1: 1505, y1: yc, x2: 1540, y2: yc }, style: { stroke: genoColors[g], lineWidth: 5 } });
  legendEls.push({
    type: 'text', x: 1559, y: yc, silent: true,
    style: { text: name, font: '34px ' + FONT, fill: TEXT, textAlign: 'left', align: 'left', textVerticalAlign: 'middle', verticalAlign: 'middle' }
  });
});

const chart = echarts.init(document.getElementById('chart'), null, { renderer: 'svg' });
chart.setOption({
  animation: false,
  backgroundColor: '#ffffff',
  textStyle: { fontFamily: FONT },
  grid: grids,
  xAxis: xAxes,
  yAxis: yAxes,
  series: gridSeries.concat(pointSeries, bandSeries, lineSeries),
  graphic: { elements: legendEls }
});
</script>
</body>
</html>
